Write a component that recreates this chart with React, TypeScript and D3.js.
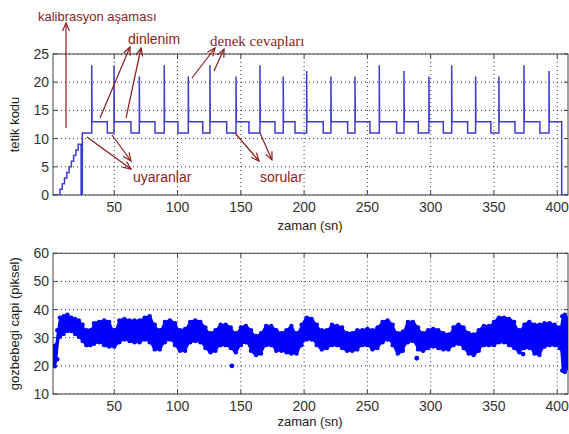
import React from "react";
import * as d3 from "d3";

// tetik kodu (trigger code) signal
const calibTimes = [7.1, 8.9, 10.7, 12.5, 14.3, 16.1, 17.9, 19.7, 21.5];
const calibLevels = [1, 2, 3, 4, 5, 6, 7, 8, 9];
const calibEnd = 23.8;
const firstStim = 24.8;
const spikeTimes = [32.2, 49.8, 69.8, 89.5, 108.5, 125.6, 146.2, 165.1, 183.5, 202.0, 221.2, 240.2, 259.4, 278.9, 298.6, 316.6, 335.5, 353.9, 373.7, 393.5];
const spikePeaks = [23, 23, 21, 23, 21, 23, 21, 23, 21, 22, 21, 21, 23, 22, 21, 23, 21, 21, 23, 22];
const questionTimes = [44.5, 63.2, 82.2, 100.3, 119.9, 138.8, 156.4, 177.0, 192.8, 215.1, 234.4, 252.0, 273.1, 290.2, 310.0, 329.2, 347.6, 366.6, 386.3];
const endTime = 403.5;

// gozbebegi capi (pupil size) band: upper / lower edge of the dots
const pupilT = [1, 3, 5, 7, 10, 13, 16, 19, 22, 25, 28, 31, 34, 38, 42, 46, 50, 54, 58, 62, 66, 70, 74, 78, 82, 86, 90, 94, 98, 102, 106, 110, 114, 118, 122, 126, 130, 134, 138, 142, 146, 150, 154, 158, 162, 166, 170, 174, 178, 182, 186, 190, 194, 198, 202, 206, 210, 214, 218, 222, 226, 230, 234, 238, 242, 246, 250, 254, 258, 262, 266, 270, 274, 278, 282, 286, 290, 294, 298, 302, 306, 310, 314, 318, 322, 326, 330, 334, 338, 342, 346, 350, 354, 358, 362, 366, 370, 374, 378, 382, 386, 390, 394, 398, 402, 404, 406, 409];
const pupilHi = [27, 27.5, 33, 37.5, 38, 38.5, 37.5, 37, 36.5, 35, 33, 33, 35.5, 36, 36.5, 36, 33, 36.5, 37, 36.5, 36.5, 36.5, 37.5, 38, 35, 33, 36, 36.5, 35.5, 33, 33.5, 36, 36.5, 36, 34, 32, 33, 35, 35, 34, 32, 34, 34.5, 33, 31, 32, 34.5, 34.5, 33, 32, 33, 34.5, 32, 35, 37.5, 37, 35, 33, 33, 35, 34.5, 34, 32, 32, 33, 33, 33.5, 33, 34, 36, 36.5, 35, 32, 32.5, 36, 36, 34, 32, 33, 33.5, 33, 32, 31.5, 34, 35, 34, 32, 31.5, 33, 34.5, 34.5, 36, 37.5, 37.5, 37, 36, 33, 35, 36, 35, 35, 35.5, 35.5, 35, 34, 38, 38.5, 37];
const pupilLo = [20, 19.5, 22, 30, 31, 32, 32, 31, 30, 28.5, 27, 27, 27.5, 28, 27, 26.5, 26.5, 28, 29, 28.5, 28, 28, 29, 28, 25.5, 25.5, 28, 29, 27, 25, 25, 28, 28.5, 28, 26, 24.5, 25, 27, 27, 26, 24.5, 27, 28, 25, 23.5, 24, 27, 27, 25, 25, 24.5, 24, 24, 27, 29, 29, 27, 25.5, 26, 27, 27, 26, 25, 25, 25.5, 27, 27, 25.5, 26, 28, 29, 27, 24, 25, 28, 28.5, 25.5, 25, 26, 26.5, 26, 25.5, 25.5, 27, 27.5, 26, 24, 23.5, 25, 27, 27, 27, 28, 28, 27, 26, 24.5, 26, 26, 24, 23.5, 26.5, 27, 27, 26, 18, 17.5, 19];
const outlierT = [143, 289, 373];
const outlierV = [20, 22.7, 24.2];

const xTicks = [50, 100, 150, 200, 250, 300, 350, 400];
const topYTicks = [0, 5, 10, 15, 20, 25];
const botYTicks = [10, 20, 30, 40, 50, 60];

const W = 569;
const H = 434;
const left = 53;
const right = 568;
const top1 = 54, bottom1 = 195;
const top2 = 253.3, bottom2 = 394;

const red = "#8b1e1e";
const axisCol = "#444";
const font = "Arial, 'Liberation Sans', sans-serif";

const Axes = ({ x, y, yTicks, topY, botY, labelY }) => {
  return (
    <g>
      {xTicks.map((t) => (
        <line key={"gx" + t} x1={x(t)} x2={x(t)} y1={topY} y2={botY} stroke="#333" strokeWidth={1} strokeDasharray="1,3" />
      ))}
      {yTicks.map((t) => (
        <line key={"gy" + t} x1={left} x2={right} y1={y(t)} y2={y(t)} stroke="#333" strokeWidth={1} strokeDasharray="1,3" />
      ))}
      <rect x={left} y={topY} width={right - left} height={botY - topY} fill="none" stroke={axisCol} strokeWidth={1} />
      {xTicks.map((t) => (
        <g key={"tx" + t}>
          <line x1={x(t)} x2={x(t)} y1={botY} y2={botY - 4} stroke={axisCol} />
          <line x1={x(t)} x2={x(t)} y1={topY} y2={topY + 4} stroke={axisCol} />
          <text x={x(t)} y={labelY} textAnchor="middle" fontSize={14} fill="#333" fontFamily={font}>{t}</text>
        </g>
      ))}
      {yTicks.map((t) => (
        <g key={"ty" + t}>
          <line x1={left} x2={left + 4} y1={y(t)} y2={y(t)} stroke={axisCol} />
          <line x1={right} x2={right - 4} y1={y(t)} y2={y(t)} stroke={axisCol} />
          <text x={49} y={y(t) + 5} textAnchor="end" fontSize={14} fill="#333" fontFamily={font}>{t}</text>
        </g>
      ))}
    </g>
  );
};

const Arrow = ({ x1, y1, x2, y2 }) => (
  <line x1={x1} y1={y1} x2={x2} y2={y2} stroke={red} strokeWidth={1.2} markerEnd="url(#arrowhead)" />
);

export default function App() {
  const x = d3.scaleLinear().domain([1.6, 408.5]).range([left, right]);
  const y1 = d3.scaleLinear().domain([0, 25]).range([bottom1, top1]);
  const y2 = d3.scaleLinear().domain([10, 60]).range([bottom2, top2]);

  // build the step trace from the event lists
  const pts: [number, number][] = [[1.6, 0], [calibTimes[0], 0]];
  calibTimes.forEach((t, i) => {
    const prev = i === 0 ? 0 : calibLevels[i - 1];
    pts.push([t, prev], [t, calibLevels[i]]);
  });
  pts.push([calibEnd, calibLevels[calibLevels.length - 1]], [calibEnd, 0], [firstStim, 0], [firstStim, 11]);
  spikeTimes.forEach((t, i) => {
    pts.push([t, 11], [t, spikePeaks[i]], [t + 0.25, 13]);
    if (i < questionTimes.length) {
      pts.push([questionTimes[i], 13], [questionTimes[i], 11]);
    }
  });
  pts.push([endTime, 13], [endTime, 0], [410, 0]);

  const line = d3.line<[number, number]>().x((d) => x(d[0])).y((d) => y1(d[1]));

  const band = pupilT.map((t, i) => ({ t, hi: pupilHi[i], lo: pupilLo[i] }));
  const area = d3
    .area<any>()
    .x((d) => x(d.t))
    .y0((d) => y2(d.lo))
    .y1((d) => y2(d.hi))
    .curve(d3.curveMonotoneX);

  return (
    <svg width={W} height={H} style={{ position: "absolute", left: 0, top: 0, background: "#fff" }}>
      <defs>
        <clipPath id="c1">
          <rect x={left} y={top1} width={right - left} height={bottom1 - top1} />
        </clipPath>
        <clipPath id="c2">
          <rect x={left} y={top2} width={right - left} height={bottom2 - top2} />
        </clipPath>
        <marker id="arrowhead" markerUnits="userSpaceOnUse" viewBox="0 0 10 8" refX={9} refY={4} markerWidth={10} markerHeight={8} orient="auto">
          <path d="M1,0.5 L9,4 L1,7.5" fill="none" stroke={red} strokeWidth={1.2} />
        </marker>
      </defs>
      <rect width={W} height={H} fill="#fff" />

      {/* top: trigger code */}
      <Axes x={x} y={y1} yTicks={topYTicks} topY={top1} botY={bottom1} labelY={212} />
      <path d={line(pts) || ""} fill="none" stroke="#3c3ccf" strokeWidth={1.5} clipPath="url(#c1)" />
      <text transform={`translate(19,${(top1 + bottom1) / 2}) rotate(-90)`} textAnchor="middle" fontSize={13} fill="#222" fontFamily={font}>tetik kodu</text>
      <text x={310} y={230} textAnchor="middle" fontSize={13} fill="#222" fontFamily={font}>zaman (sn)</text>

      {/* annotations */}
      <text x={38} y={21} fontSize={13} fill={red} fontFamily={font}>kalibrasyon aşaması</text>
      <Arrow x1={66} y1={128} x2={66} y2={23} />
      <text x={128} y={44} fontSize={14} fill={red} fontFamily={font}>dinlenim</text>
      <Arrow x1={100} y1={118} x2={130} y2={47} />
      <Arrow x1={126} y1={118} x2={141} y2={48} />
      <text x={210} y={46} fontSize={15} fill={red} fontFamily="'Liberation Serif', 'DejaVu Serif', serif">denek cevapları</text>
      <Arrow x1={192} y1={78} x2={215} y2={48} />
      <Arrow x1={214} y1={71} x2={224} y2={49} />
      <text x={133} y={182} fontSize={14} fill={red} fontFamily={font}>uyaranlar</text>
      <Arrow x1={87} y1={137} x2={131} y2={169} />
      <Arrow x1={112} y1={135} x2={131} y2={161} />
      <text x={260} y={182} fontSize={14} fill={red} fontFamily={font}>sorular</text>
      <Arrow x1={235} y1={133} x2={259} y2={161} />
      <Arrow x1={260} y1={133} x2={272} y2={160} />

      {/* bottom: pupil size */}
      <Axes x={x} y={y2} yTicks={botYTicks} topY={top2} botY={bottom2} labelY={411} />
      <g clipPath="url(#c2)" fill="#0000ff">
        <path d={area(band) || ""} />
        {band.map((d, i) => (
          <g key={i}>
            <circle cx={x(d.t)} cy={y2(d.hi) + 1} r={2.2} />
            <circle cx={x(d.t)} cy={y2(d.lo) - 1} r={2.2} />
          </g>
        ))}
        {outlierT.map((t, i) => (
          <circle key={"o" + i} cx={x(t)} cy={y2(outlierV[i])} r={2.4} />
        ))}
      </g>
      <text transform={`translate(19,${(top2 + bottom2) / 2}) rotate(-90)`} textAnchor="middle" fontSize={13} fill="#222" fontFamily={font}>gozbebegi capi (piksel)</text>
      <text x={310} y={426} textAnchor="middle" fontSize={13} fill="#222" fontFamily={font}>zaman (sn)</text>
    </svg>
  );
}
